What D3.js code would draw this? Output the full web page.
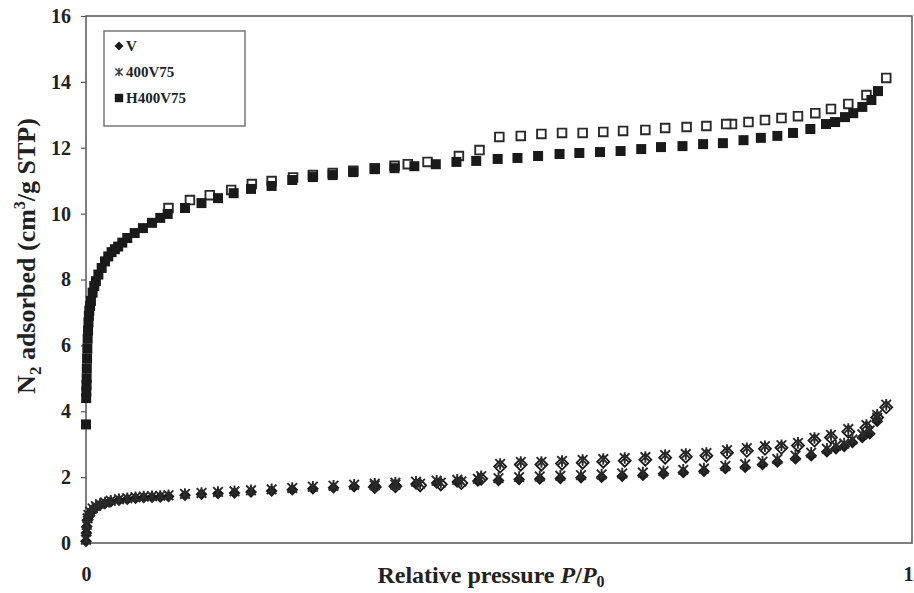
<!DOCTYPE html>
<html>
<head>
<meta charset="utf-8">
<script src="https://cdn.jsdelivr.net/npm/d3@7"></script>
<style>
  body { margin: 0; background: #fff; }
  text { font-family: "Liberation Serif", "Times New Roman", serif; font-weight: bold; fill: #222; }
</style>
</head>
<body>
<div id="chart"></div>
<script>
var width = 914
var height = 593
var xRange = [86, 911]
var yRange = [543, 16]

// H400V75 adsorption (filled squares)
var hAdsP = [0.0, 0.0002, 0.0004, 0.0006, 0.0008, 0.001, 0.0013, 0.0016, 0.002, 0.0025, 0.003, 0.0035, 0.004, 0.005, 0.006, 0.008, 0.01, 0.012, 0.015, 0.019, 0.023, 0.027, 0.031, 0.035, 0.039, 0.044, 0.05, 0.059, 0.069, 0.08, 0.09, 0.099, 0.12, 0.14, 0.16, 0.179, 0.2, 0.225, 0.25, 0.275, 0.299, 0.324, 0.35, 0.374, 0.398, 0.424, 0.449, 0.473, 0.499, 0.523, 0.548, 0.574, 0.598, 0.623, 0.648, 0.673, 0.697, 0.723, 0.748, 0.772, 0.797, 0.818, 0.838, 0.857, 0.878, 0.897, 0.908, 0.92, 0.93, 0.941, 0.952, 0.96]
var hAdsN = [3.6, 4.4, 4.6, 4.8, 5.0, 5.3, 5.6, 5.9, 6.2, 6.45, 6.7, 6.9, 7.05, 7.2, 7.35, 7.6, 7.8, 7.95, 8.15, 8.35, 8.55, 8.7, 8.83, 8.92, 9.0, 9.12, 9.26, 9.41, 9.56, 9.72, 9.87, 9.99, 10.17, 10.32, 10.47, 10.62, 10.75, 10.84, 11.02, 11.11, 11.17, 11.26, 11.35, 11.38, 11.44, 11.5, 11.57, 11.6, 11.66, 11.69, 11.75, 11.81, 11.84, 11.87, 11.9, 11.96, 12.02, 12.05, 12.11, 12.14, 12.23, 12.3, 12.36, 12.45, 12.57, 12.72, 12.78, 12.93, 13.05, 13.24, 13.45, 13.72]

// H400V75 desorption (open squares)
var hDesP = [0.970, 0.946, 0.924, 0.903, 0.884, 0.863, 0.843, 0.823, 0.803, 0.783, 0.776, 0.752, 0.728, 0.702, 0.678, 0.651, 0.627, 0.602, 0.577, 0.552, 0.527, 0.501, 0.477, 0.452, 0.414, 0.390, 0.374, 0.350, 0.324, 0.299, 0.275, 0.251, 0.225, 0.201, 0.176, 0.150, 0.126, 0.100]
var hDesN = [14.12, 13.6, 13.33, 13.18, 13.05, 12.96, 12.9, 12.84, 12.78, 12.72, 12.72, 12.66, 12.63, 12.6, 12.54, 12.51, 12.48, 12.45, 12.45, 12.42, 12.36, 12.33, 11.93, 11.75, 11.57, 11.5, 11.45, 11.38, 11.3, 11.23, 11.17, 11.1, 10.99, 10.9, 10.72, 10.56, 10.41, 10.17]

// V and 400V75 adsorption share pressures
var lowAdsP = [0, 0.0005, 0.001, 0.002, 0.003, 0.005, 0.008, 0.012, 0.017, 0.023, 0.03, 0.04, 0.05, 0.06, 0.07, 0.08, 0.09, 0.1, 0.12, 0.14, 0.16, 0.18, 0.2, 0.225, 0.25, 0.275, 0.3, 0.325, 0.35, 0.375, 0.4, 0.425, 0.45, 0.475, 0.5, 0.525, 0.55, 0.575, 0.6, 0.625, 0.65, 0.675, 0.7, 0.724, 0.749, 0.775, 0.799, 0.82, 0.838, 0.86, 0.879, 0.898, 0.909, 0.919, 0.929, 0.941, 0.95, 0.959]
var vAdsN = [0.05, 0.3, 0.5, 0.7, 0.8, 0.9, 1.0, 1.08, 1.15, 1.2, 1.25, 1.3, 1.33, 1.36, 1.38, 1.39, 1.4, 1.41, 1.45, 1.48, 1.5, 1.52, 1.55, 1.58, 1.62, 1.65, 1.68, 1.71, 1.74, 1.76, 1.79, 1.82, 1.85, 1.88, 1.9, 1.93, 1.94, 1.96, 1.98, 2.0, 2.03, 2.06, 2.1, 2.14, 2.18, 2.26, 2.3, 2.38, 2.46, 2.56, 2.65, 2.77, 2.86, 2.93, 3.05, 3.2, 3.32, 3.7]
var aAdsN = [0.1, 0.35, 0.55, 0.75, 0.85, 0.95, 1.05, 1.12, 1.18, 1.23, 1.28, 1.33, 1.36, 1.39, 1.41, 1.42, 1.43, 1.45, 1.49, 1.52, 1.55, 1.57, 1.6, 1.63, 1.67, 1.71, 1.74, 1.77, 1.8, 1.83, 1.86, 1.89, 1.92, 1.95, 1.97, 2.0, 2.02, 2.04, 2.06, 2.08, 2.11, 2.14, 2.18, 2.22, 2.26, 2.34, 2.39, 2.47, 2.55, 2.65, 2.74, 2.86, 2.95, 3.02, 3.14, 3.3, 3.42, 3.8]

// V and 400V75 desorption share pressures
var lowDesP = [0.970, 0.959, 0.946, 0.924, 0.903, 0.883, 0.863, 0.843, 0.823, 0.801, 0.777, 0.752, 0.727, 0.702, 0.678, 0.653, 0.627, 0.602, 0.577, 0.552, 0.527, 0.502, 0.479, 0.455, 0.43, 0.405, 0.375, 0.35]
var vDesN = [4.12, 3.81, 3.5, 3.38, 3.2, 3.11, 2.96, 2.89, 2.86, 2.8, 2.74, 2.65, 2.62, 2.59, 2.53, 2.5, 2.47, 2.44, 2.41, 2.38, 2.38, 2.32, 1.95, 1.82, 1.78, 1.75, 1.72, 1.7]
var aDesN = [4.2, 3.89, 3.58, 3.46, 3.28, 3.19, 3.04, 2.97, 2.94, 2.88, 2.82, 2.73, 2.7, 2.67, 2.61, 2.58, 2.55, 2.52, 2.49, 2.46, 2.46, 2.4, 2.03, 1.87, 1.83, 1.8, 1.77, 1.75]

var yTicks = [0, 2, 4, 6, 8, 10, 12, 14, 16]
var xTicks = [0, 1]
var legendLabels = ["V", "400V75", "H400V75"]

function zip(p, n) {
  return p.map(function(d, i) { return [d, n[i]] })
}

var svg = d3.select('#chart').append('svg')
  .attr('width', width)
  .attr('height', height)

var x = d3.scaleLinear().domain([0, 1]).range(xRange)
var y = d3.scaleLinear().domain([0, 16]).range(yRange)

// marker shapes
function diamond(r) { return 'M0,' + (-r) + 'L' + r + ',0L0,' + r + 'L' + (-r) + ',0Z' }
function square(r) { return 'M' + (-r) + ',' + (-r) + 'h' + (2*r) + 'v' + (2*r) + 'h' + (-2*r) + 'Z' }
function asterisk(r) {
  return 'M' + (-r) + ',' + (-r) + 'L' + r + ',' + r +
         'M' + (-r) + ',' + r + 'L' + r + ',' + (-r) +
         'M0,' + (-r*1.2) + 'L0,' + (r*1.2)
}

function drawSeries(data, path, fill, stroke, sw) {
  svg.append('g').selectAll('path')
    .data(data)
    .enter()
    .append('path')
    .attr('d', path)
    .attr('transform', function(d) { return 'translate(' + x(d[0]) + ',' + y(d[1]) + ')' })
    .attr('fill', fill)
    .attr('stroke', stroke)
    .attr('stroke-width', sw)
}

// axes
var yAxis = d3.axisLeft(y).tickValues(yTicks).tickSize(5).tickPadding(10)
var gy = svg.append('g')
  .attr('transform', 'translate(' + xRange[0] + ',0)')
  .call(yAxis)
gy.select('.domain').remove()
gy.selectAll('line').attr('stroke', '#555').attr('stroke-width', 1.2)
gy.selectAll('text').style('font-size', '20px').style('fill', '#222')

var xAxis = d3.axisBottom(x).tickValues(xTicks).tickSize(0).tickPadding(24).tickFormat(d3.format('d'))
var gx = svg.append('g')
  .attr('transform', 'translate(0,' + yRange[0] + ')')
  .call(xAxis)
gx.select('.domain').remove()
gx.selectAll('text').style('font-size', '20px').style('fill', '#222')
  .attr('dx', function(d) { return d === 1 ? -3 : 0 })

// plot frame
svg.append('rect')
  .attr('x', xRange[0]).attr('y', yRange[1])
  .attr('width', xRange[1] - xRange[0] + 1)
  .attr('height', yRange[0] - yRange[1])
  .attr('fill', 'none')
  .attr('stroke', '#555')
  .attr('stroke-width', 1.5)

// series
drawSeries(zip(lowDesP, vDesN), diamond(6), '#fff', '#1a1a1a', 1.8)
drawSeries(zip(lowAdsP, vAdsN), diamond(6), '#1a1a1a', 'none', 0)
drawSeries(zip(lowAdsP, aAdsN), asterisk(4.8), 'none', '#2a2a2a', 1.9)
drawSeries(zip(lowDesP, aDesN), asterisk(4.8), 'none', '#2a2a2a', 1.9)
drawSeries(zip(hDesP, hDesN), square(4.3), '#fff', '#2a2a2a', 1.9)
drawSeries(zip(hAdsP, hAdsN), square(5), '#1a1a1a', 'none', 0)

// legend
var legend = svg.append('g')
legend.append('rect')
  .attr('x', 104).attr('y', 31).attr('width', 141).attr('height', 95)
  .attr('fill', '#fff').attr('stroke', '#777').attr('stroke-width', 1.5)
var legendShapes = [
  {d: diamond(4.5), fill: '#1a1a1a', stroke: 'none', sw: 0},
  {d: asterisk(3.6), fill: 'none', stroke: '#3a3a3a', sw: 1.4},
  {d: square(4.2), fill: '#1a1a1a', stroke: 'none', sw: 0}
]
legendLabels.forEach(function(label, i) {
  var ly = 46 + i * 26
  legend.append('path')
    .attr('d', legendShapes[i].d)
    .attr('transform', 'translate(119,' + ly + ')')
    .attr('fill', legendShapes[i].fill)
    .attr('stroke', legendShapes[i].stroke)
    .attr('stroke-width', legendShapes[i].sw)
  legend.append('text')
    .attr('x', 126).attr('y', ly + 5)
    .style('font-size', '15px')
    .text(label)
})

// axis titles
var xt = svg.append('text')
  .attr('x', 491).attr('y', 583)
  .attr('text-anchor', 'middle')
  .style('font-size', '24px')
xt.append('tspan').text('Relative pressure ')
xt.append('tspan').style('font-style', 'italic').text('P')
xt.append('tspan').text('/')
xt.append('tspan').style('font-style', 'italic').text('P')
xt.append('tspan').attr('dy', 4).style('font-size', '16px').text('0')

var yt = svg.append('text')
  .attr('transform', 'translate(35,256) rotate(-90)')
  .attr('text-anchor', 'middle')
  .style('font-size', '26px')
yt.append('tspan').text('N')
yt.append('tspan').attr('dy', 6).style('font-size', '17px').text('2')
yt.append('tspan').attr('dy', -6).text(' adsorbed (cm')
yt.append('tspan').attr('dy', -10).style('font-size', '16px').text('3')
yt.append('tspan').attr('dy', 10).text('/g STP)')
</script>
</body>
</html>
